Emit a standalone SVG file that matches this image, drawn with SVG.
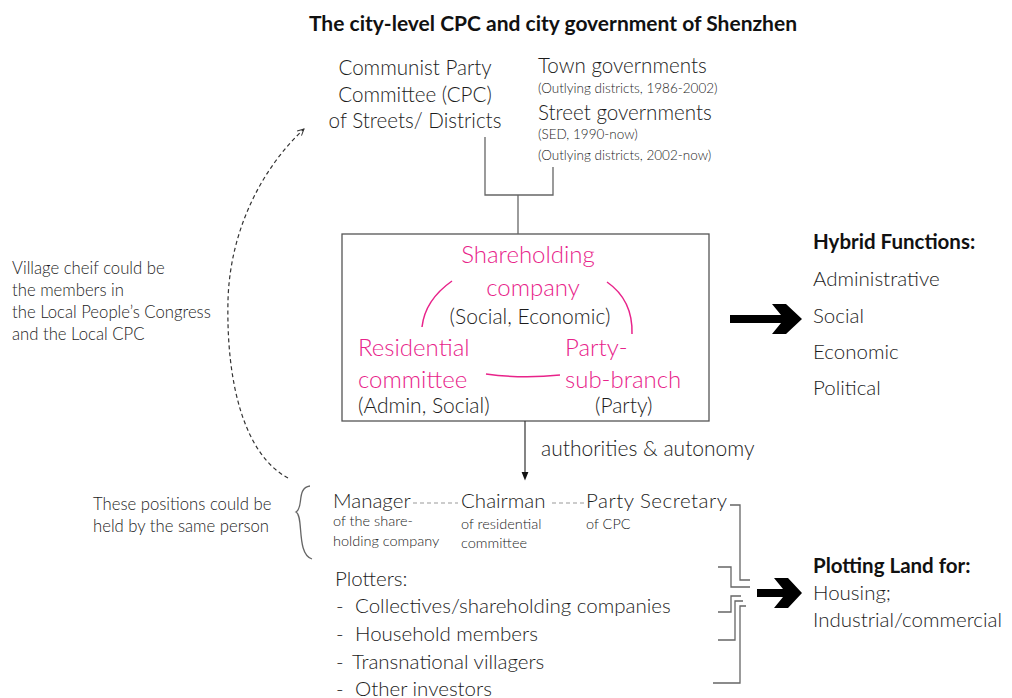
<svg xmlns="http://www.w3.org/2000/svg" width="1012" height="698" viewBox="0 0 1012 698">
<defs>
<style>
text{font-family:Lato,"Open Sans","DejaVu Sans",sans-serif;fill:#1c1c1c;font-weight:300}
.pk{fill:#e8238a}
.b{font-weight:bold;fill:#111}
.t{font-size:21px}
.f20{font-size:20.6px}
.f19{font-size:20.5px}
.f18{font-size:21px}
.f15{font-size:16.7px}
.f13{font-size:13.5px}
.f14{font-size:14.5px}
.pl{font-size:24px}
.ln{fill:none;stroke:#666;stroke-width:1.3}
.pkl{fill:none;stroke:#e8238a;stroke-width:1.5}
.dash{fill:none;stroke:#999;stroke-width:1;stroke-dasharray:4 3}
</style>
<marker id="open" viewBox="0 0 10 10" refX="9" refY="5" markerWidth="8" markerHeight="8" orient="auto" markerUnits="userSpaceOnUse">
<path d="M1,1 L9,5 L1,9" fill="none" stroke="#333" stroke-width="1.2"/>
</marker>
<marker id="tri" viewBox="0 0 10 10" refX="5" refY="5" markerWidth="9" markerHeight="9" orient="auto" markerUnits="userSpaceOnUse">
<path d="M0,1 L10,5 L0,9 Z" fill="#111"/>
</marker>
</defs>
<rect width="1012" height="698" fill="#fff"/>

<g id="title"><text x="553" y="31" text-anchor="middle" class="b t">The city-level CPC and city government of Shenzhen</text></g>

<g id="cpc">
<text x="415" y="75" text-anchor="middle" class="f20">Communist Party</text>
<text x="415" y="102" text-anchor="middle" class="f20">Committee (CPC)</text>
<text x="415" y="128" text-anchor="middle" class="f20">of Streets/ Districts</text>
</g>

<g id="gov">
<text x="538" y="73" class="f20">Town governments</text>
<text x="538" y="93" class="f13">(Outlying districts, 1986-2002)</text>
<text x="538" y="120" class="f20">Street governments</text>
<text x="538" y="139" class="f13">(SED, 1990-now)</text>
<text x="538" y="160" class="f13">(Outlying districts, 2002-now)</text>
</g>

<g id="village-note">
<text x="12" y="274" class="f15">Village cheif could be</text>
<text x="12" y="296" class="f15">the members in</text>
<text x="12" y="318" class="f15">the Local People’s Congress</text>
<text x="12" y="340" class="f15">and the Local CPC</text>
</g>

<g id="positions-note">
<text x="93" y="510" class="f15">These positions could be</text>
<text x="93" y="532" class="f15">held by the same person</text>
</g>

<g id="village-box">
<rect x="342" y="234" width="367" height="187" fill="none" stroke="#555" stroke-width="1.3"/>
<text x="528" y="263" text-anchor="middle" class="pk pl">Shareholding</text>
<text x="533" y="296" text-anchor="middle" class="pk pl">company</text>
<text x="530" y="324" text-anchor="middle" class="f18">(Social, Economic)</text>
<text x="358" y="356" class="pk pl">Residential</text>
<text x="358" y="388" class="pk pl">committee</text>
<text x="358" y="413" class="f18">(Admin, Social)</text>
<text x="565" y="356" class="pk pl">Party-</text>
<text x="565" y="388" class="pk pl">sub-branch</text>
<text x="595" y="413" class="f18">(Party)</text>
<path class="pkl" d="M452,281 Q425,300 422,327"/>
<path class="pkl" d="M607,282 Q633,300 632,334"/>
<path class="pkl" d="M486,374 Q523,379 560,375"/>
</g>

<g id="hybrid">
<text x="813" y="249" class="b f19">Hybrid Functions:</text>
<text x="813" y="286" class="f19">Administrative</text>
<text x="813" y="323" class="f19">Social</text>
<text x="813" y="359" class="f19">Economic</text>
<text x="813" y="395" class="f19">Political</text>
</g>

<g id="authorities"><text x="541" y="456" class="f18">authorities &amp; autonomy</text></g>

<g id="positions">
<text x="333" y="508" class="f19">Manager</text>
<text x="333" y="526" class="f14">of the share-</text>
<text x="333" y="546" class="f14">holding company</text>
<text x="461" y="508" class="f19">Chairman</text>
<text x="461" y="529" class="f14">of residential</text>
<text x="461" y="548" class="f14">committee</text>
<text x="586" y="508" class="f19" textLength="141">Party Secretary</text>
<text x="586" y="529" class="f14">of CPC</text>
</g>

<g id="plotters">
<text x="335" y="586" class="f19">Plotters:</text>
<text x="336" y="613" class="f19">-<tspan x="355">Collectives/shareholding companies</tspan></text>
<text x="336" y="641" class="f19">-<tspan x="355">Household members</tspan></text>
<text x="336" y="669" class="f19">-<tspan x="352">Transnational villagers</tspan></text>
<text x="336" y="696" class="f19">-<tspan x="355">Other investors</tspan></text>
</g>

<g id="plotting-land">
<text x="813" y="573" class="b f19">Plotting Land for:</text>
<text x="813" y="600" class="f19">Housing;</text>
<text x="813" y="627" class="f19">Industrial/commercial</text>
</g>

<g id="connectors">
<path class="ln" d="M485,137 V195 H553 V167"/>
<path class="ln" d="M518,195 V234"/>
<path d="M525,421 V476" fill="none" stroke="#333" stroke-width="1.2" marker-end="url(#tri)"/>
<polygon points="730,315 781,315 772,304 786,304 802,319 786,334 772,334 781,323 730,323" fill="#000"/>
<polygon points="757,589 783,589 774,578 788,578 802,593 788,608 774,608 783,597 757,597" fill="#000"/>
<path d="M288,478 C245,455 226,385 228,300 C230,230 262,168 304,129" fill="none" stroke="#333" stroke-width="1.2" stroke-dasharray="4 3" marker-end="url(#open)"/>
<path class="ln" d="M310,486 C296,488 304,508 296,512 C304,516 296,554 312,559"/>
<path class="dash" d="M413,503 H458"/>
<path class="dash" d="M552,503 H584"/>
<path class="ln" d="M730,505 H740 V580 H750"/>
<path class="ln" d="M718,567 H731 V587 H750"/>
<path class="ln" d="M718,612 H731 V596 H741"/>
<path class="ln" d="M718,640 H735 V601 H743"/>
<path class="ln" d="M713,683 H740 V606 H746"/>
</g>
</svg>
